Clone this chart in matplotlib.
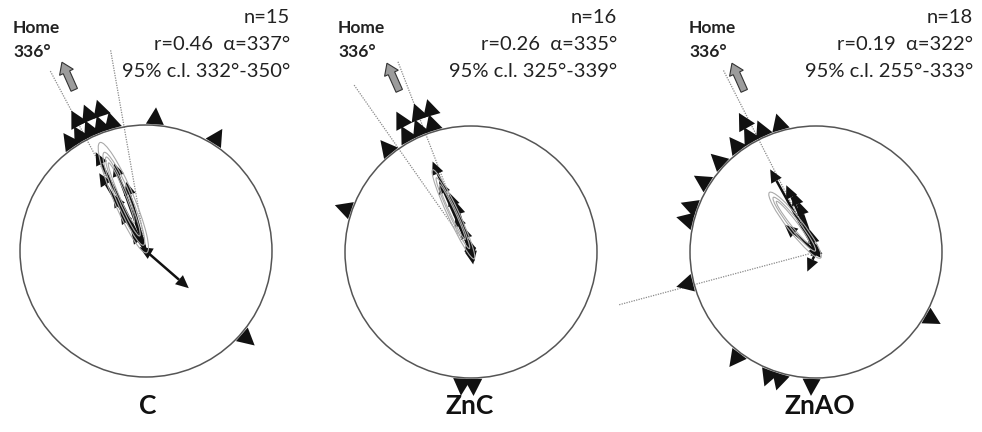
import numpy as np
import matplotlib
matplotlib.use("Agg")
import matplotlib.pyplot as plt
from matplotlib.patches import Circle, Polygon, Ellipse, FancyArrow

plt.rcParams['font.family'] = ['Lato', 'DejaVu Sans']

# ---- data -------------------------------------------------------------
GROUPS = ["C", "ZnC", "ZnAO"]
N_BIRDS = [15, 16, 18]
MEAN_R = [0.46, 0.26, 0.19]
MEAN_DIR = [337, 335, 322]
CL_LOW = [332, 325, 255]
CL_HIGH = [350, 339, 333]
HOME_DIR = 336

# vanishing bearings (deg) plotted outside the circle
BEARINGS_C = [325, 330, 332, 335, 337, 340, 342, 345, 4, 32, 131]
BEARINGS_ZNC = [289, 321, 331, 332, 337, 339, 343, 344, 179, 184]
BEARINGS_ZNAO = [120, 182, 196, 201, 217, 256, 284, 290, 302, 313, 323,
                 330, 331, 336, 344]

# individual vectors inside the circle: direction (deg) and length (0-1)
VEC_DIR_C = [333, 329, 340, 330, 344, 327, 324, 300, 131]
VEC_LEN_C = [0.88, 0.72, 0.74, 0.52, 0.57, 0.38, 0.20, 0.06, 0.45]
VEC_DIR_ZNC = [337, 336, 340, 343, 338, 342, 346, 160, 170]
VEC_LEN_ZNC = [0.78, 0.62, 0.50, 0.42, 0.33, 0.22, 0.12, 0.08, 0.10]
VEC_DIR_ZNAO = [331, 336, 339, 341, 311, 345, 350, 204, 140]
VEC_LEN_ZNAO = [0.75, 0.58, 0.51, 0.42, 0.33, 0.18, 0.08, 0.17, 0.06]

# confidence ellipses: centre distance, major and minor axis (fraction of radius)
ELL_DIST = [[0.46, 0.45, 0.47, 0.50], [0.33, 0.34, 0.35], [0.27, 0.28, 0.30]]
ELL_MAJOR = [[0.95, 0.80, 0.68, 0.52], [0.78, 0.62, 0.48], [0.66, 0.54, 0.42]]
ELL_MINOR = [[0.16, 0.12, 0.08, 0.05], [0.09, 0.06, 0.04], [0.12, 0.08, 0.05]]

OUTER = [BEARINGS_C, BEARINGS_ZNC, BEARINGS_ZNAO]
VDIR = [VEC_DIR_C, VEC_DIR_ZNC, VEC_DIR_ZNAO]
VLEN = [VEC_LEN_C, VEC_LEN_ZNC, VEC_LEN_ZNAO]

# ---- layout (pixels) --------------------------------------------------
CENTERS = [(146, 251), (471, 252), (816, 252)]
RADIUS = 126
STATS_X = [290, 617, 973]
HOME_X = [13, 338, 689]
LABEL_X = [148, 470, 820]

TRI_W, TRI_H, STACK = 18, 17, 15
HEAD_W, HEAD_L = 12, 13
GAP = 4.5


def polar(c, d, b):
    t = np.radians(b)
    return c[0] + d * np.sin(t), c[1] - d * np.cos(t)


def triangle(c, d0, b, w, h):
    t = np.radians(b)
    ux, uy = np.sin(t), -np.cos(t)
    tx, ty = np.cos(t), np.sin(t)
    bx, by = c[0] + d0 * ux, c[1] + d0 * uy
    return [(bx - tx * w / 2, by - ty * w / 2),
            (bx + tx * w / 2, by + ty * w / 2),
            (bx + ux * h, by + uy * h)]


def stack_levels(bearings):
    placed = []
    levels = []
    for b in bearings:
        lev = 0
        while any(l == lev and abs((b - p + 180) % 360 - 180) < GAP
                  for p, l in placed):
            lev += 1
        placed.append((b, lev))
        levels.append(lev)
    return levels


fig = plt.figure(figsize=(9.82, 4.32), dpi=100)
ax = fig.add_axes([0, 0, 1, 1])
ax.set_xlim(0, 982)
ax.set_ylim(432, 0)
ax.set_aspect('equal')
ax.axis('off')

for i, c in enumerate(CENTERS):
    # confidence-limit lines
    for b in (CL_LOW[i], CL_HIGH[i]):
        x1, y1 = polar(c, 1.62 * RADIUS, b)
        ax.plot([c[0], x1], [c[1], y1], color='#8a8a8a', lw=0.9,
                ls=(0, (1, 1)), zorder=1)

    ax.add_patch(Circle(c, RADIUS, fill=False, ec='#555555', lw=1.1, zorder=2))

    # ellipses around the mean vector
    for d, ma, mi in zip(ELL_DIST[i], ELL_MAJOR[i], ELL_MINOR[i]):
        ex, ey = polar(c, d * RADIUS, MEAN_DIR[i])
        ang = 90 - MEAN_DIR[i]
        ax.add_patch(Ellipse((ex, ey), ma * RADIUS, mi * RADIUS, angle=-ang,
                             fill=False, ec='#aaaaaa', lw=0.8, zorder=4))

    # individual vectors
    for b, L in zip(VDIR[i], VLEN[i]):
        d = L * RADIUS
        xe, ye = polar(c, max(d - HEAD_L, 0), b)
        ax.plot([c[0], xe], [c[1], ye], color='#111111', lw=1.8,
                solid_capstyle='butt', zorder=3)
        ax.add_patch(Polygon(triangle(c, d - HEAD_L, b, HEAD_W, HEAD_L),
                             closed=True, fc='#111111', ec='none', zorder=3))

    # vanishing bearings, stacked when close
    bs = sorted(OUTER[i])
    for b, lev in zip(bs, stack_levels(bs)):
        ax.add_patch(Polygon(triangle(c, RADIUS + 1 + lev * STACK, b, TRI_W, TRI_H),
                             closed=True, fc='#111111', ec='none', zorder=5))

    # home direction arrow
    x0, y0 = polar(c, 1.40 * RADIUS, HOME_DIR)
    x1, y1 = polar(c, 1.64 * RADIUS, HOME_DIR)
    ax.add_patch(FancyArrow(x0, y0, x1 - x0, y1 - y0, width=7, head_width=15,
                            head_length=11, length_includes_head=True,
                            fc='#9c9c9c', ec='#333333', lw=0.8, zorder=6))

    ax.text(HOME_X[i], 33, "Home", fontsize=12.5, fontweight='bold',
            color='#222222', ha='left', va='baseline')
    ax.text(HOME_X[i], 57, f"{HOME_DIR}°", fontsize=12.5, fontweight='bold',
            color='#222222', ha='left', va='baseline')

    ax.text(STATS_X[i], 23, f"n={N_BIRDS[i]}", fontsize=14.5, color='#222222',
            ha='right', va='baseline')
    ax.text(STATS_X[i], 50, f"r={MEAN_R[i]:.2f}  α={MEAN_DIR[i]}°", fontsize=14.5,
            color='#222222', ha='right', va='baseline')
    ax.text(STATS_X[i], 77, f"95% c.l. {CL_LOW[i]}°-{CL_HIGH[i]}°", fontsize=14.5,
            color='#222222', ha='right', va='baseline')

    ax.text(LABEL_X[i], 406, GROUPS[i], fontsize=19, fontweight='bold',
            color='#111111', ha='center', va='center')

fig.savefig("out.png", dpi=100)
